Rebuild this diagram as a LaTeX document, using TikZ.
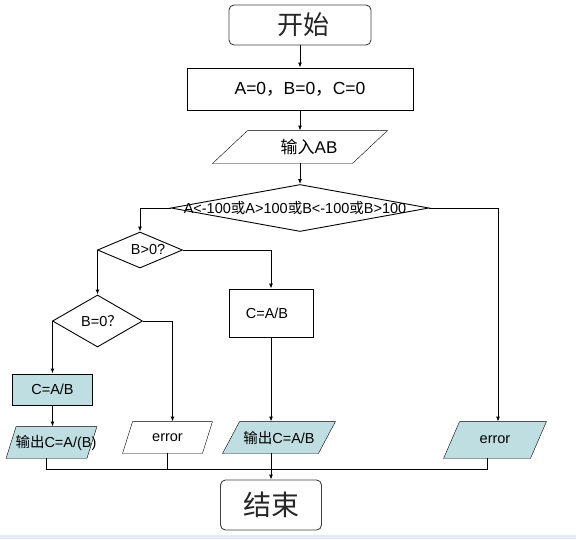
\documentclass[tikz,border=0pt]{standalone}
\usepackage{fontspec}
\setmainfont{Liberation Sans}
\newfontfamily\cjk{Noto Sans CJK SC}
\usetikzlibrary{shapes.geometric,arrows.meta,backgrounds,calc}
\definecolor{tealfill}{RGB}{190,222,226}
\definecolor{band}{RGB}{228,234,246}
\begin{document}
\begin{tikzpicture}[x=1pt,y=-1pt,line width=0.9pt,
  box/.style={draw,rectangle,inner sep=0pt,font=\fontsize{14.5}{16}\selectfont},
  term/.style={draw=black!75,rectangle,rounded corners=5pt,inner sep=0pt,text=black!85},
  para/.style={rectangle,inner sep=0pt,font=\fontsize{14.5}{16}\selectfont},
  dia/.style={draw,diamond,inner sep=0pt,fill=white},
  lab/.style={inner sep=0pt,font=\fontsize{14.5}{16}\selectfont},
  arr/.style={-{Latex[length=5pt,width=4pt]}}]
\useasboundingbox (0,0) rectangle (576,539);

\node[term,minimum width=142pt,minimum height=40pt,font=\cjk\fontsize{26}{28}\selectfont] (start) at (300,25) {\hspace*{6pt}开始};
\node[box,minimum width=226pt,minimum height=42pt,font=\fontsize{17.5}{20}\selectfont] (init) at (300,89) {A=0{\cjk ，}B=0{\cjk ，}C=0};
\node[para,minimum width=174pt,minimum height=32pt,font=\fontsize{17}{20}\selectfont] (in) at (300,147) {\hspace*{18pt}{\cjk 输入}AB};
\node[dia,minimum width=258pt,minimum height=47pt,label={[lab,xshift=-5pt]center:{A<-100{\cjk 或}A>100{\cjk 或}B<-100{\cjk 或}B>100}}] (d1) at (300,208) {};
\node[dia,minimum width=85pt,minimum height=36pt,label={[lab,xshift=8pt]center:{B>0?}}] (d2) at (140,250) {};
\node[dia,minimum width=90pt,minimum height=52pt,label={[lab,xshift=4pt]center:{B=0{\cjk ？}}}] (d3) at (97.5,321) {};
\node[box,fill=tealfill,minimum width=80pt,minimum height=31pt] (c1) at (52.5,389.5) {C=A/B};
\node[box,minimum width=84pt,minimum height=48pt] (c2) at (271,313) {C=A/B\hspace*{8pt}};
\node[para,minimum width=89pt,minimum height=31pt] (o1) at (51.5,442.5) {\hspace*{9pt}{\cjk 输出}C=A/(B)};
\node[para,minimum width=89pt,minimum height=31pt] (e1) at (167.5,437.5) {error};
\node[para,minimum width=112pt,minimum height=31pt] (o2) at (279,437.5) {{\cjk 输出}C=A/B};
\node[para,minimum width=102pt,minimum height=36pt] (e2) at (495,440) {error};
\node[term,minimum width=101pt,minimum height=50pt,font=\cjk\fontsize{28}{30}\selectfont] (end) at (271,505) {结束};

\draw[arr] (start.south) -- (init.north);
\draw[arr] (init.south) -- (in.north);
\draw[arr] (in.south) -- (d1.north);
\draw[arr] (d1.west) -| (d2.north);
\draw[arr] (d1.east) -| ([xshift=3pt]e2.north);
\draw[arr] (d2.west) -| (d3.north);
\draw[arr] (d2.east) -| (c2.north);
\draw[arr] (d3.west) -| (c1.north);
\draw[arr] (d3.east) -| ([xshift=5pt]e1.north);
\draw[arr] (c1.south) -- (c1.south |- o1.north);
\draw[arr] (c2.south) -- (c2.south |- o2.north);
\coordinate (j) at (271,469);
\draw ([xshift=-5pt]o1.south) |- (j);
\draw (e1.south) |- (j);
\draw ([xshift=-8pt]e2.south) |- (j);
\draw[arr] ([xshift=-8pt]o2.south) -- (end.north);

\begin{scope}[on background layer]
  \fill[white] (0,0) rectangle (576,539);
  \fill[band] (0,535) rectangle (576,539);
  \foreach \n/\s/\f in {in/35/white,o1/10/tealfill,e1/10/white,o2/17/tealfill,e2/16/tealfill}
    \draw[fill=\f] (\n.south west) -- ([xshift=-\s pt]\n.south east) -- (\n.north east) -- ([xshift=\s pt]\n.north west) -- cycle;
\end{scope}
\end{tikzpicture}
\end{document}
